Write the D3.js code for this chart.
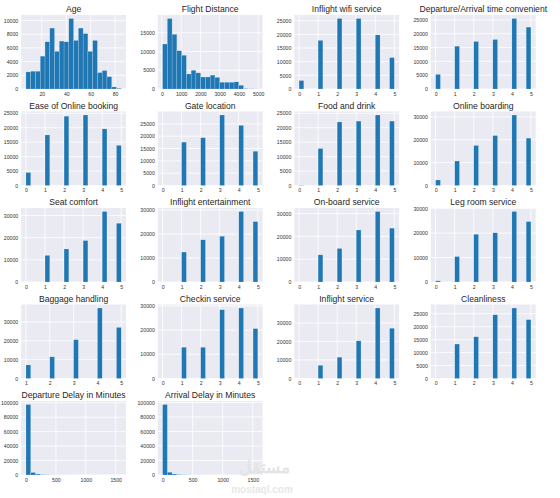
<!DOCTYPE html>
<html>
<head>
<meta charset="utf-8">
<script src="https://cdn.jsdelivr.net/npm/d3@7"></script>
<style>
  html, body { margin: 0; padding: 0; background: #ffffff; }
  svg { display: block; }
  text { font-family: "Liberation Sans", Arial, sans-serif; }
</style>
</head>
<body>
<svg id="chart" width="560" height="498"></svg>
<script>
// ---------------- DATA ----------------
const titles = [
  "Age", "Flight Distance", "Inflight wifi service", "Departure/Arrival time convenient",
  "Ease of Online booking", "Gate location", "Food and drink", "Online boarding",
  "Seat comfort", "Inflight entertainment", "On-board service", "Leg room service",
  "Baggage handling", "Checkin service", "Inflight service", "Cleanliness",
  "Departure Delay in Minutes", "Arrival Delay in Minutes"
];

// continuous columns: 20-bin counts and data range
const ageRange = [7, 85];
const ageCounts = [2500, 2600, 2600, 4800, 6900, 8900, 5500, 7000, 6900, 10300,
                   7100, 8900, 8100, 5500, 7100, 2400, 2700, 1800, 300, 100];
const distanceRange = [31, 4983];
const distanceCounts = [12000, 18800, 14600, 10200, 9000, 4000, 5000, 4300, 3200, 3200,
                        3700, 3100, 1800, 1800, 1800, 1900, 1000, 120, 60, 30];
const depDelayRange = [0, 1592];
const depDelayCounts = [97500, 3500, 1300, 500, 250, 120, 60, 30, 15, 8,
                        5, 3, 2, 1, 1, 0, 0, 0, 0, 1];
const arrDelayRange = [0, 1584];
const arrDelayCounts = [97200, 3800, 1400, 550, 270, 130, 60, 30, 15, 8,
                        5, 3, 2, 1, 1, 0, 0, 0, 0, 1];

// rating columns: counts per level
const ratingLevels = [0, 1, 2, 3, 4, 5];
const baggageLevels = [1, 2, 3, 4, 5];
const wifiCounts        = [3100, 17800, 25800, 25800, 19800, 11500];
const timeConvCounts    = [5300, 15500, 17200, 17900, 25500, 22400];
const onlineBookCounts  = [4500, 17500, 24000, 24400, 19600, 13900];
const gateCounts        = [1, 17600, 19400, 28600, 24400, 13900];
const foodCounts        = [100, 12800, 22000, 22300, 24400, 22300];
const boardingCounts    = [2400, 10700, 17500, 21800, 30800, 20700];
const seatCounts        = [1, 12000, 14900, 18700, 31800, 26500];
const entertainCounts   = [14, 12500, 17600, 19100, 29400, 25200];
const onboardCounts     = [3, 11900, 14700, 22800, 30900, 23600];
const legroomCounts     = [470, 10400, 19500, 20100, 28800, 24700];
const baggageCounts     = [7200, 11500, 20600, 37400, 27100];
const checkinCounts     = [1, 12900, 12900, 28400, 29100, 20600];
const inflightSvcCounts = [3, 7100, 11500, 20300, 38000, 27100];
const cleanCounts       = [12, 13300, 16100, 24600, 27200, 22700];

// tick labels
const ageXTicks = [20, 40, 60, 80];
const distanceXTicks = [0, 1000, 2000, 3000, 4000, 5000];
const delayXTicks = [0, 500, 1000, 1500];
const ratingXTicks = [0, 1, 2, 3, 4, 5];
const baggageXTicks = [1, 2, 3, 4, 5];
const yTicks5k = [0, 5000, 10000, 15000, 20000, 25000];
const yTicks10k = [0, 10000, 20000, 30000];
const ageYTicks = [0, 2000, 4000, 6000, 8000, 10000];
const distanceYTicks = [0, 5000, 10000, 15000];
const delayYTicks = [0, 20000, 40000, 60000, 80000, 100000];

const NBINS = 20;

// build panel specs from the arrays
function contPanel(title, range, counts, xt, yt) {
  const w = (range[1] - range[0]) / NBINS;
  const bins = counts.map((c, i) => ({ x0: range[0] + i * w, x1: range[0] + (i + 1) * w, c }));
  return { title, range, bins, xt, yt };
}
function ratingPanel(title, levels, counts, xt, yt) {
  const range = [levels[0], levels[levels.length - 1]];
  const w = (range[1] - range[0]) / NBINS;
  const bins = levels.map((v, i) => {
    const bi = Math.min(Math.floor((v - range[0]) / w + 1e-9), NBINS - 1);
    return { x0: range[0] + bi * w, x1: range[0] + (bi + 1) * w, c: counts[i] };
  });
  return { title, range, bins, xt, yt };
}

const panels = [
  contPanel(titles[0], ageRange, ageCounts, ageXTicks, ageYTicks),
  contPanel(titles[1], distanceRange, distanceCounts, distanceXTicks, distanceYTicks),
  ratingPanel(titles[2], ratingLevels, wifiCounts, ratingXTicks, yTicks5k),
  ratingPanel(titles[3], ratingLevels, timeConvCounts, ratingXTicks, yTicks5k),
  ratingPanel(titles[4], ratingLevels, onlineBookCounts, ratingXTicks, yTicks5k),
  ratingPanel(titles[5], ratingLevels, gateCounts, ratingXTicks, yTicks5k),
  ratingPanel(titles[6], ratingLevels, foodCounts, ratingXTicks, yTicks5k),
  ratingPanel(titles[7], ratingLevels, boardingCounts, ratingXTicks, yTicks10k),
  ratingPanel(titles[8], ratingLevels, seatCounts, ratingXTicks, yTicks10k),
  ratingPanel(titles[9], ratingLevels, entertainCounts, ratingXTicks, yTicks10k),
  ratingPanel(titles[10], ratingLevels, onboardCounts, ratingXTicks, yTicks10k),
  ratingPanel(titles[11], ratingLevels, legroomCounts, ratingXTicks, yTicks10k),
  ratingPanel(titles[12], baggageLevels, baggageCounts, baggageXTicks, yTicks10k),
  ratingPanel(titles[13], ratingLevels, checkinCounts, ratingXTicks, yTicks10k),
  ratingPanel(titles[14], ratingLevels, inflightSvcCounts, ratingXTicks, yTicks10k),
  ratingPanel(titles[15], ratingLevels, cleanCounts, ratingXTicks, yTicks5k),
  contPanel(titles[16], depDelayRange, depDelayCounts, delayXTicks, delayYTicks),
  contPanel(titles[17], arrDelayRange, arrDelayCounts, delayXTicks, delayYTicks)
];

// ---------------- LAYOUT ----------------
const colLeft = [21.2, 157.8, 294.3, 430.9];
const axW = 104.8;
const rowTop0 = 15, rowStep = 96.5, axH = 74;
const barColor = "#1f77b4";
const bg = "#eaeaf2";

const svg = d3.select("#chart");

panels.forEach((p, idx) => {
  const col = idx % 4, row = Math.floor(idx / 4);
  const left = colLeft[col], top = rowTop0 + row * rowStep;
  const span = p.range[1] - p.range[0];
  const x = d3.scaleLinear()
    .domain([p.range[0] - 0.05 * span, p.range[1] + 0.05 * span])
    .range([0, axW]);
  const ymax = d3.max(p.bins, d => d.c);
  const y = d3.scaleLinear().domain([0, ymax * 1.05]).range([axH, 0]);

  const g = svg.append("g").attr("transform", `translate(${left},${top})`);
  g.append("rect").attr("width", axW).attr("height", axH).attr("fill", bg);

  // grid
  g.append("g").selectAll("line").data(p.xt).join("line")
    .attr("x1", d => x(d)).attr("x2", d => x(d)).attr("y1", 0).attr("y2", axH)
    .attr("stroke", "#fff").attr("stroke-width", 0.8);
  g.append("g").selectAll("line").data(p.yt).join("line")
    .attr("y1", d => y(d)).attr("y2", d => y(d)).attr("x1", 0).attr("x2", axW)
    .attr("stroke", "#fff").attr("stroke-width", 0.8);

  // bars
  g.append("g").selectAll("rect").data(p.bins.filter(b => b.c > 0)).join("rect")
    .attr("x", d => x(d.x0)).attr("width", d => x(d.x1) - x(d.x0))
    .attr("y", d => y(d.c)).attr("height", d => axH - y(d.c))
    .attr("fill", barColor).attr("stroke", "#ffffff").attr("stroke-opacity", 0.45)
    .attr("stroke-width", 0.4);

  // axes (labels only)
  const xAxis = d3.axisBottom(x).tickValues(p.xt).tickSize(0).tickPadding(3.2)
    .tickFormat(d3.format("d"));
  const xa = g.append("g").attr("transform", `translate(0,${axH})`).call(xAxis);
  const yAxis = d3.axisLeft(y).tickValues(p.yt).tickSize(0).tickPadding(3)
    .tickFormat(d3.format("d"));
  const ya = g.append("g").call(yAxis);
  [xa, ya].forEach(a => {
    a.select(".domain").remove();
    a.selectAll("text").attr("font-size", 5.2).attr("fill", "#333")
      .attr("font-family", "'Liberation Sans', Arial, sans-serif");
  });

  // title
  g.append("text").attr("x", axW / 2).attr("y", -3).attr("text-anchor", "middle")
    .attr("font-size", 8.6).attr("fill", "#262626").text(p.title);
});

// faint watermark
svg.append("text").attr("x", 264).attr("y", 473).attr("text-anchor", "middle")
  .attr("font-family", "'Noto Sans', sans-serif").attr("font-size", 17)
  .attr("font-weight", "bold").attr("fill", "#e4e4e4").text("مستقل");
svg.append("text").attr("x", 262).attr("y", 493).attr("text-anchor", "middle")
  .attr("font-size", 10).attr("font-weight", "bold").attr("fill", "#e8e8e8").text("mostaql.com");
</script>
</body>
</html>
